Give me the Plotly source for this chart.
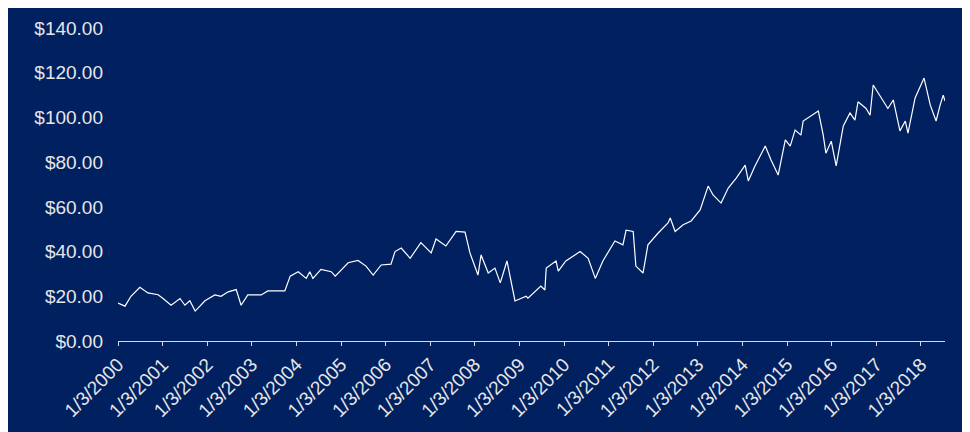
import plotly.graph_objects as go
from datetime import datetime, timedelta

years = [0.00,.157,.29,.49,.67,.90,1.01,1.19,1.39,1.50,1.61,1.73,1.95,2.17,2.31,2.47,2.65,2.76,2.91,3.21,3.36,3.74,3.86,4.04,4.22,4.30,4.37,4.55,4.78,4.87,5.16,5.38,5.56,5.72,5.90,6.12,6.21,6.35,6.55,6.79,7.02,7.13,7.35,7.58,7.78,7.89,8.07,8.14,8.30,8.45,8.57,8.72,8.90,9.15,9.19,9.48,9.57,9.60,9.82,9.87,10.04,10.36,10.54,10.70,10.87,10.99,11.14,11.32,11.39,11.55,11.61,11.77,11.88,12.11,12.33,12.38,12.49,12.67,12.85,13.05,13.23,13.34,13.52,13.68,13.86,14.06,14.13,14.28,14.51,14.64,14.80,14.96,15.07,15.18,15.31,15.36,15.70,15.81,15.87,15.99,16.10,16.26,16.41,16.52,16.59,16.77,16.86,16.93,17.11,17.26,17.38,17.53,17.65,17.71,17.87,18.07,18.21,18.34,18.43,18.50,18.54]
prices = [17,15.6,20,24,21.5,20.7,19,16,19,16,18,13.4,18,20.6,20,22,23,16,20.6,20.6,22.4,22.4,29,31,28,31,28,32,31,29,35,36,33.5,29.5,34,34.4,40,41.6,37,44,39.4,45.6,42.5,49,48.7,39.4,29.5,38.5,30.4,32.6,26,35.8,17.9,20,19.2,24.6,22.8,32.6,35.8,31.3,35.8,40,37,28,35.8,40,44.7,43,49.6,49,33.5,30.4,43,48.3,52.8,55,49,52,53.7,58.6,69.3,65.3,61.7,68.4,72.9,78.7,71.6,78.3,87.2,81,74.2,90,87.2,94.4,92.1,98.4,102.9,92.1,84,89.4,78.3,96.2,102,98.8,107,104,101,114.5,108.7,104,107.8,94,98.4,93,108.7,117.6,105.5,98.4,105.5,110,107.3]
tick_years = list(range(2000, 2019))
tick_labels = [f"1/3/{y}" for y in tick_years]

start = datetime(2000, 1, 3)
dates = [start + timedelta(days=y * 365.25) for y in years]
tickvals = [datetime(y, 1, 3) for y in tick_years]

bg = "#002060"
fig = go.Figure(go.Scatter(x=dates, y=prices, mode="lines",
                           line=dict(color="white", width=1.2)))
fig.update_layout(
    width=970, height=432, paper_bgcolor=bg, plot_bgcolor=bg,
    margin=dict(l=110, r=33, t=20, b=99), showlegend=False,
    font=dict(family="Liberation Sans", size=19, color="#E6E6E6"),
)
fig.update_xaxes(tickvals=tickvals, ticktext=tick_labels, tickangle=-45,
                 showgrid=False, zeroline=False, showline=True, linecolor="#D9D9D9",
                 ticks="outside", tickcolor="#D9D9D9", ticklen=4, automargin=False,
                 range=[datetime(2000, 1, 3), start + timedelta(days=18.54 * 365.25)])
fig.update_yaxes(range=[0, 140], dtick=20, tickprefix="$", tickformat=",.2f",
                 showgrid=False, zeroline=False, showline=False, automargin=False,
                 ticklabelstandoff=14)
fig.write_html("out.html")
